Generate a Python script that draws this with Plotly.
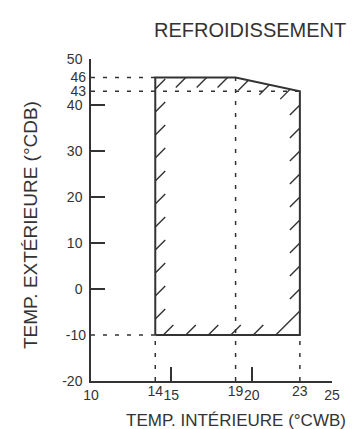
import plotly.graph_objects as go

# ---- data ----
t_int = [14, 14, 19, 23, 23, 14]          # indoor temp (°CWB), polygon vertices
t_ext = [-10, 46, 46, 43, -10, -10]       # outdoor temp (°CDB)
x_ticks_plain = [10, 15, 20, 25]
x_ticks_marked = [14, 19, 23]
y_ticks_plain = [-20, 0, 10, 20, 30, 40, 50]
y_ticks_marked = [-10, 43, 46]
x_range = [10, 25]
y_range = [-20, 50]

# hatch anchor positions (data units)
left_hatch_y = [-6.5, -1.5, 3.5, 8.5, 13.5, 18.5, 23.5, 28.5, 33.5, 38.5, 43.5]
right_hatch_y = [0, 5, 10, 15, 20, 25, 30, 35, 40]
bottom_hatch_x = [14.5, 15.9, 17.3, 18.7, 20.1]
corner_hatch_x = 21.5
top_hatch_x = [15.9, 17.2, 18.5, 19.8, 21.1, 22.4]

W, H = 358, 429
ML, MR, MT, MB = 83, 34, 51, 56
pw, ph = W - ML - MR, H - MT - MB
ux = (x_range[1] - x_range[0]) / pw   # data per px
uy = (y_range[1] - y_range[0]) / ph
HL = 10  # hatch length px
dx, dy = HL * ux, HL * uy

C = "#333333"
FAM = "Liberation Sans, Arial, sans-serif"
fig = go.Figure()

# dashed reference lines
dash = "4px,8px"
x0, y0 = x_range[0], y_range[0]
refs = [
    ([x0, t_int[1]], [t_ext[1], t_ext[1]]),
    ([x0, t_int[3]], [t_ext[3], t_ext[3]]),
    ([x0, t_int[0]], [t_ext[0], t_ext[0]]),
    ([t_int[0], t_int[0]], [y0, t_ext[0]]),
    ([t_int[2], t_int[2]], [y0, t_ext[2]]),
    ([t_int[3], t_int[3]], [y0, t_ext[4]]),
]
for xs, ys in refs:
    fig.add_trace(go.Scatter(x=xs, y=ys, mode="lines",
                             line=dict(color=C, width=1.5, dash=dash),
                             hoverinfo="skip", showlegend=False))

# hatching
hx, hy = [], []
for y in left_hatch_y:
    hx += [t_int[0], t_int[0] + dx, None]
    hy += [y, min(y + dy, t_ext[1]), None]
for y in right_hatch_y:
    hx += [t_int[3], t_int[3] - dx, None]
    hy += [y, y - dy, None]
for x in bottom_hatch_x:
    hx += [x, x + dx, None]
    hy += [t_ext[0], t_ext[0] + dy, None]
L = t_int[3] - corner_hatch_x
hx += [corner_hatch_x, t_int[3], None]
hy += [t_ext[0], t_ext[0] + L / ux * uy, None]


def ytop(x):
    if x <= t_int[2]:
        return t_ext[1]
    return t_ext[2] + (t_ext[3] - t_ext[2]) * (x - t_int[2]) / (t_int[3] - t_int[2])


for x in top_hatch_x:
    yt = ytop(x)
    hx += [x, x - dx, None]
    hy += [yt, yt - dy, None]
fig.add_trace(go.Scatter(x=hx, y=hy, mode="lines", line=dict(color=C, width=1.4),
                         hoverinfo="skip", showlegend=False))

# polygon
fig.add_trace(go.Scatter(x=t_int, y=t_ext, mode="lines", line=dict(color=C, width=2),
                         hoverinfo="skip", showlegend=False))

# dummy for overlay axes
fig.add_trace(go.Scatter(x=[x0], y=[y0], xaxis="x2", yaxis="y2", mode="markers",
                         marker=dict(opacity=0), hoverinfo="skip", showlegend=False))

font = dict(family=FAM, size=14, color=C)
ax_common = dict(showgrid=False, zeroline=False, tickfont=font, tickangle=0)
fig.update_layout(
    width=W, height=H, autosize=False,
    margin=dict(l=ML, r=MR, t=MT, b=MB),
    paper_bgcolor="white", plot_bgcolor="white",
    font=font,
    xaxis=dict(range=x_range, tickmode="array", tickvals=x_ticks_plain,
               ticktext=[str(v) for v in x_ticks_plain],
               ticks="inside", ticklen=14, tickwidth=1.5, tickcolor=C,
               showline=True, linecolor=C, linewidth=1.5, **ax_common),
    yaxis=dict(range=y_range, tickmode="array", tickvals=y_ticks_plain,
               ticktext=[str(v) for v in y_ticks_plain],
               ticks="inside", ticklen=14, tickwidth=1.5, tickcolor=C,
               showline=True, linecolor=C, linewidth=1.5,
               ticklabelstandoff=4, **ax_common),
    xaxis2=dict(range=x_range, overlaying="x", anchor="y", side="bottom",
                tickmode="array", tickvals=x_ticks_marked,
                ticktext=[str(v) for v in x_ticks_marked], ticks="",
                showline=False, **ax_common),
    yaxis2=dict(range=y_range, overlaying="y", anchor="x", side="left",
                tickmode="array", tickvals=y_ticks_marked,
                ticktext=[str(v) for v in y_ticks_marked], ticks="",
                showline=False, ticklabelstandoff=4, **ax_common),
    annotations=[
        dict(text="REFROIDISSEMENT", xref="paper", yref="paper",
             x=(242 - ML) / pw, y=(MT + ph - 22) / ph, showarrow=False,
             xanchor="center", yanchor="middle",
             font=dict(family=FAM, size=20, color=C)),
        dict(text="TEMP. INTÉRIEURE (°CWB)", xref="paper", yref="paper",
             x=(228 - ML) / pw, y=(MT + ph - 412) / ph, showarrow=False,
             xanchor="center", yanchor="middle",
             font=dict(family=FAM, size=17, color=C)),
        dict(text="TEMP. EXTÉRIEURE (°CDB)", xref="paper", yref="paper",
             x=(22 - ML) / pw, y=(MT + ph - 217) / ph, showarrow=False,
             textangle=-90, xanchor="center", yanchor="middle",
             font=dict(family=FAM, size=19, color=C)),
    ],
)
fig.write_html("out.html")
